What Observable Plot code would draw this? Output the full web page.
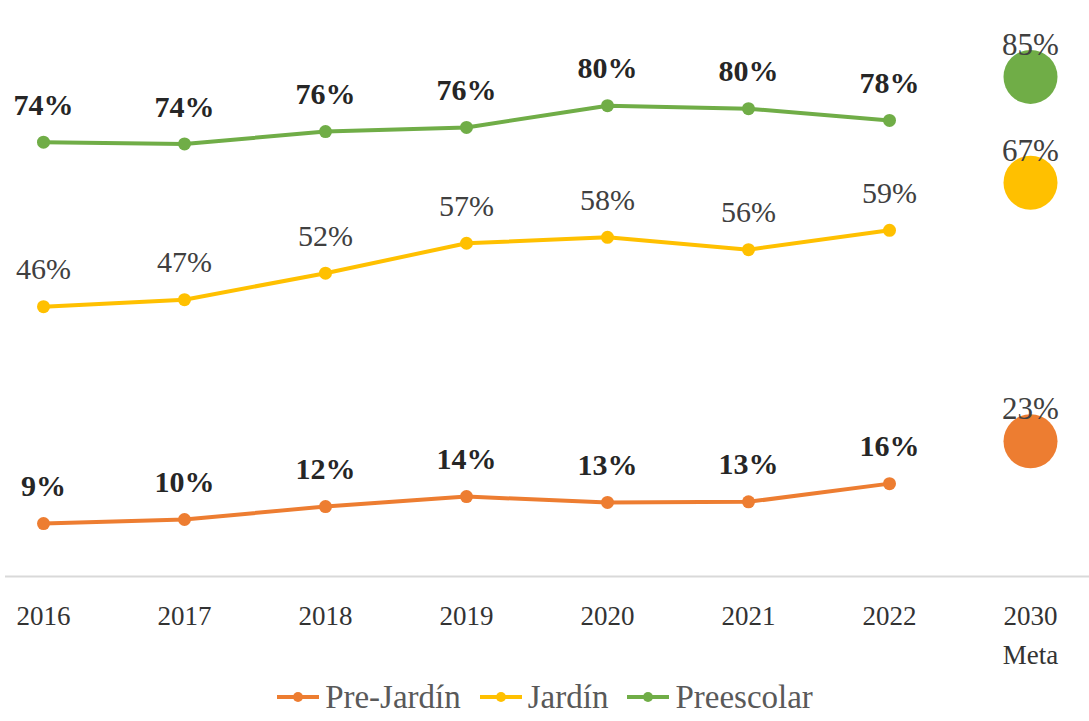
<!DOCTYPE html>
<html><head><meta charset="utf-8">
<script src="https://cdn.jsdelivr.net/npm/d3@7"></script>
<script src="https://cdn.jsdelivr.net/npm/@observablehq/plot@0.6"></script>
<style>
body{margin:0;background:#fff;font-family:"Liberation Serif","DejaVu Serif",serif;}
#chart svg{display:block}
#legend{display:flex;justify-content:center;align-items:center;height:54px;font-size:33px;color:#595959;font-family:"Liberation Serif","DejaVu Serif",serif;}
.item{display:flex;align-items:center;margin:0 9px;}
.item svg{margin-right:5px}
</style>
</head><body>
<div id="chart"></div>
<div id="legend"></div>
<script>
const years = ["2016","2017","2018","2019","2020","2021","2022"];
const metaLabel = "2030\nMeta";
const categories = [...years, metaLabel];
const series = ["Pre-Jardín","Jardín","Preescolar"];
const colors = ["#ED7D31","#FFC000","#70AD47"];
const preJardin  = [9.0, 9.7, 11.9, 13.6, 12.6, 12.7, 15.8];
const jardin     = [45.9, 47.1, 51.6, 56.7, 57.7, 55.6, 58.9];
const preescolar = [73.9, 73.6, 75.7, 76.4, 80.1, 79.6, 77.6];
const metas = [23, 67, 85];

const values = [preJardin, jardin, preescolar];
const rows = [];
series.forEach((s,i)=>values[i].forEach((v,j)=>rows.push({series:s, year:years[j], value:v})));
const metaRows = series.map((s,i)=>({series:s, year:metaLabel, value:metas[i]}));
const fmt = d => Math.round(d.value) + "%";

const chart = Plot.plot({
  width:1089, height:670,
  marginTop:0, marginBottom:94, marginLeft:43, marginRight:59,
  x:{type:"point", domain:categories, axis:null, padding:0},
  y:{domain:[0,98], axis:null},
  color:{domain:series, range:colors},
  style:{fontFamily:"Liberation Serif, serif", background:"#fff"},
  marks:[
    Plot.ruleY([0], {stroke:"#d9d9d9", strokeWidth:2, insetLeft:-38, insetRight:-59}),
    Plot.line(rows, {x:"year", y:"value", z:"series", stroke:"series", strokeWidth:4}),
    Plot.dot(rows, {x:"year", y:"value", fill:"series", r:6.5}),
    Plot.text(rows.filter(d=>d.series!=="Jardín"), {x:"year", y:"value", text:fmt, dy:-37, fontSize:30, fontWeight:"bold", fill:"#262626"}),
    Plot.text(rows.filter(d=>d.series==="Jardín"), {x:"year", y:"value", text:fmt, dy:-37, fontSize:30, fill:"#404040"}),
    Plot.dot(metaRows, {x:"year", y:"value", fill:"series", r:27}),
    Plot.text(metaRows, {x:"year", y:"value", text:fmt, dy:-32, fontSize:31, fill:"#404040"}),
    Plot.text(categories, {x:d=>d, text:d=>d, frameAnchor:"bottom", lineAnchor:"top", dy:21, fontSize:27, lineHeight:1.45, fill:"#333"})
  ]
});
document.getElementById("chart").appendChild(chart);

const legend = document.getElementById("legend");
series.forEach((s,i)=>{
  const it = document.createElement("div");
  it.className = "item";
  it.innerHTML = `<svg width="44" height="12"><line x1="1" x2="43" y1="6" y2="6" stroke="${colors[i]}" stroke-width="4"/><circle cx="22" cy="6" r="5" fill="${colors[i]}"/></svg><span>${s}</span>`;
  legend.appendChild(it);
});
</script>
</body></html>
